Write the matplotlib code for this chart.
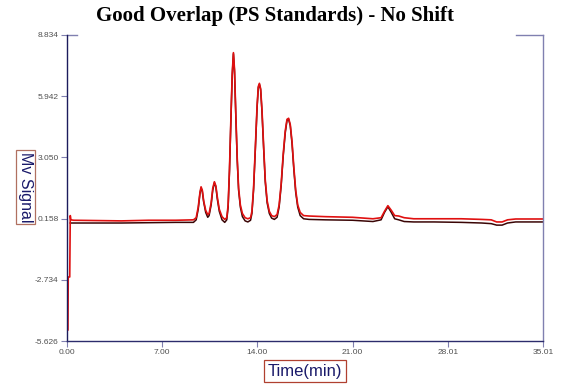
import matplotlib

matplotlib.use("Agg")

import matplotlib.pyplot as plt

# values (time in min, signal in mV)
red_time = [0.07, 0.09, 0.2, 0.24, 0.28, 0.5, 4.0, 6.0, 8.0, 9.3,
            9.5, 9.65, 9.78, 9.86, 9.95, 10.05, 10.2, 10.35, 10.45, 10.6,
            10.72, 10.84, 10.95, 11.05, 11.2, 11.4, 11.6, 11.75, 11.85, 11.95,
            12.05, 12.15, 12.24, 12.32, 12.42, 12.52, 12.62, 12.75, 12.9, 13.1,
            13.3, 13.5, 13.6, 13.72, 13.85, 13.98, 14.07, 14.15, 14.24, 14.34,
            14.46, 14.58, 14.72, 14.88, 15.05, 15.25, 15.45, 15.6, 15.75, 15.9,
            16.05, 16.18, 16.3, 16.42, 16.55, 16.68, 16.82, 16.97, 17.15, 17.4,
            17.8, 19.0, 21.0, 22.5, 23.1, 23.35, 23.6, 23.85, 24.1, 24.4,
            24.8, 25.5, 27.0, 29.0, 30.5, 31.2, 31.6, 32.0, 32.4, 33.0, 35.01]
red_signal = [-5.1, -2.6, -2.6, 0.3, 0.1, 0.08, 0.05, 0.08, 0.08, 0.1,
              0.2, 0.7, 1.4, 1.66, 1.5, 1.0, 0.55, 0.35, 0.4, 0.9,
              1.6, 1.9, 1.7, 1.2, 0.6, 0.25, 0.12, 0.2, 0.8, 2.5,
              4.8, 7.0, 8.0, 7.2, 5.0, 3.0, 1.6, 0.8, 0.4, 0.2,
              0.15, 0.2, 0.5, 1.6, 3.5, 5.5, 6.4, 6.55, 6.3, 5.3,
              3.6, 2.0, 1.0, 0.5, 0.3, 0.25, 0.35, 0.8, 1.8, 3.2,
              4.3, 4.85, 4.9, 4.6, 3.8, 2.6, 1.5, 0.8, 0.45, 0.3,
              0.28, 0.25, 0.22, 0.15, 0.2, 0.5, 0.77, 0.55, 0.3, 0.28,
              0.2, 0.15, 0.15, 0.15, 0.12, 0.1, 0.0, 0.0, 0.1, 0.14, 0.14]

dark_time = [0.24, 4.0, 8.0, 9.3,
             9.5, 9.65, 9.78, 9.86, 9.95, 10.05, 10.2, 10.35, 10.45, 10.6,
             10.72, 10.84, 10.95, 11.05, 11.2, 11.4, 11.6, 11.75, 11.85, 11.95,
             12.05, 12.15, 12.24, 12.32, 12.42, 12.52, 12.62, 12.75, 12.9, 13.1,
             13.3, 13.5, 13.6, 13.72, 13.85, 13.98, 14.07, 14.15, 14.24, 14.34,
             14.46, 14.58, 14.72, 14.88, 15.05, 15.25, 15.45, 15.6, 15.75, 15.9,
             16.05, 16.18, 16.3, 16.42, 16.55, 16.68, 16.82, 16.97, 17.15, 17.4,
             17.8, 19.0, 21.0, 22.5, 23.1, 23.35, 23.6, 23.85, 24.1, 24.4,
             24.8, 25.5, 27.0, 29.0, 30.5, 31.2, 31.6, 32.0, 32.4, 33.0, 35.01]
dark_signal = [-0.05, -0.05, -0.02, -0.02,
               0.1, 0.6, 1.35, 1.6, 1.45, 0.95, 0.45, 0.22, 0.3, 0.8,
               1.5, 1.85, 1.65, 1.1, 0.5, 0.1, -0.02, 0.1, 0.7, 2.4,
               4.7, 6.9, 7.95, 7.1, 4.9, 2.9, 1.5, 0.7, 0.25, 0.05,
               0.0, 0.08, 0.4, 1.5, 3.4, 5.4, 6.35, 6.5, 6.25, 5.2,
               3.5, 1.9, 0.9, 0.4, 0.18, 0.12, 0.22, 0.7, 1.7, 3.1,
               4.2, 4.8, 4.85, 4.55, 3.7, 2.5, 1.4, 0.7, 0.3, 0.15,
               0.12, 0.1, 0.08, 0.02, 0.1, 0.45, 0.72, 0.45, 0.15, 0.1,
               0.02, 0.0, 0.0, -0.02, -0.05, -0.08, -0.15, -0.15, -0.05, 0.0, 0.0]

x_ticks = [0.00, 7.00, 14.00, 21.00, 28.01, 35.01]
y_ticks = [-5.626, -2.734, 0.158, 3.050, 5.942, 8.834]

fig = plt.figure(figsize=(5.65, 3.88), dpi=100)
ax = fig.add_axes([0.1186, 0.1211, 0.8425, 0.7887])

ax.plot(dark_time, dark_signal, color="#3a0505", linewidth=1.1)
ax.plot(red_time, red_signal, color="#e01010", linewidth=1.2)

ax.set_xlim(0, 35.01)
ax.set_ylim(-5.626, 8.834)
ax.set_xticks(x_ticks, [f"{v:.2f}" for v in x_ticks])
ax.set_yticks(y_ticks, [f"{v:.3f}" for v in y_ticks])
ax.tick_params(labelsize=6, labelcolor="#505050", color="#8080b0",
               length=4, width=0.8, pad=2)
for lab in ax.get_xticklabels() + ax.get_yticklabels():
    lab.set_family("Liberation Sans")

ax.spines["top"].set_visible(False)
ax.spines["left"].set_color("#1c1c5c")
ax.spines["bottom"].set_color("#2c2c6c")
ax.spines["right"].set_color("#8080b0")
for s in ("left", "bottom", "right"):
    ax.spines[s].set_linewidth(1.0)

# short pieces of the top frame left visible around the title
ax.plot([0, 0.021], [1, 1], transform=ax.transAxes, color="#8080b0",
        linewidth=1.0, clip_on=False)
ax.plot([0.943, 1.0], [1, 1], transform=ax.transAxes, color="#8080b0",
        linewidth=1.0, clip_on=False)

fig.text(0.487, 0.960, "Good Overlap (PS Standards) - No Shift",
         ha="center", va="center", fontsize=15, fontweight="bold",
         family="Liberation Serif", color="black")

fig.text(0.540, 0.0438, "Time(min)", ha="center", va="center", fontsize=12,
         family="Liberation Sans", color="#1a1a6a",
         bbox=dict(boxstyle="square,pad=0.22", facecolor="white",
                   edgecolor="#b04030", linewidth=0.9))
fig.text(0.0455, 0.518, "Mv Signal", ha="center", va="center", fontsize=11.5,
         rotation=270, family="Liberation Sans", color="#1a1a6a",
         bbox=dict(boxstyle="square,pad=0.12", facecolor="white",
                   edgecolor="#b07060", linewidth=0.9))

fig.savefig("out.png", dpi=100)
plt.close(fig)
